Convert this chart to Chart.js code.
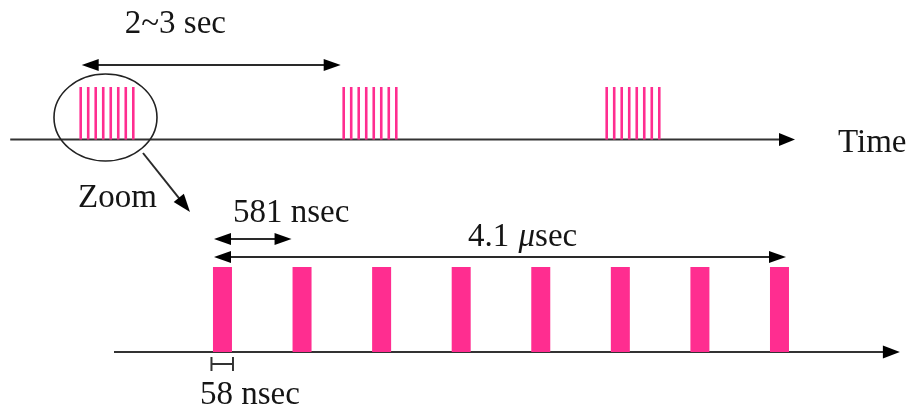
<!DOCTYPE html>
<html>
<head>
<meta charset="utf-8">
<script src="https://cdn.jsdelivr.net/npm/chart.js@4.4.1/dist/chart.umd.min.js"></script>
<style>
  html, body { margin: 0; padding: 0; background: #ffffff; }
  #wrap { width: 911px; height: 412px; position: relative; }
</style>
</head>
<body>
<div id="wrap"><canvas id="c"></canvas></div>
<script>
// Burst repetition: one burst every 2~3 seconds (start times, s)
const burstStartsSec = [0, 2.5, 5.0];
// Pulses inside one burst: start times in nanoseconds
const pulseStartsNs = [0, 581, 1162, 1743, 2324, 2905, 3486, 4067];
// Relative pulse amplitude
const pulseAmplitude = [1, 1, 1, 1, 1, 1, 1, 1];
// Pulse width, ns
const pulseWidthNs = 58;

// Text
const periodLabel = '2~3 sec';
const spacingLabel = '581 nsec';
const trainLabelNum = '4.1 ';
const trainLabelMu = 'μ';
const trainLabelUnit = 'sec';
const widthLabel = '58 nsec';
const axisLabel = 'Time';
const zoomLabel = 'Zoom';

// ---- layout: pixel origin and pixels per unit for each scale ----
const W = 911, H = 412;
const TOP_X = { origin: 80.7, perUnit: 105.2 };    // seconds
const TOP_Y = { origin: 139.5, perUnit: 52.5 };    // amplitude
const BOT_X = { origin: 218.5, perUnit: 0.13696 }; // nanoseconds
const BOT_Y = { origin: 352, perUnit: 85 };        // amplitude
// inside each burst on the seconds axis the pulse train is drawn magnified
const BURST_ZOOM = 1.229e-4; // s of drawing per ns
const topAxisSec = [-0.67, 6.79];
const bottomAxisNs = [-763, 4975];

function xRange(m) { return { min: -m.origin / m.perUnit, max: (W - m.origin) / m.perUnit }; }
function yRange(m) { return { min: (m.origin - H) / m.perUnit, max: m.origin / m.perUnit }; }

const burstLines = [];
burstStartsSec.forEach(s => {
  pulseStartsNs.forEach((t, i) => burstLines.push({ x: s + t * BURST_ZOOM, y: pulseAmplitude[i] }));
});
const pulses = pulseStartsNs.map((t, i) => ({ x: t + pulseWidthNs / 2, y: pulseAmplitude[i] }));

const PINK = '#ff2d90';
const INK = '#151515';
const AXIS = '#333333';
const FONT = '33px "Liberation Serif", "Times New Roman", serif';
const FONT_IT = 'italic 33px "Liberation Serif", "Times New Roman", serif';

function head(ctx, x, y, dx, dy, len, half) {
  const n = Math.hypot(dx, dy), ux = dx / n, uy = dy / n;
  const bx = x - ux * len, by = y - uy * len;
  ctx.beginPath();
  ctx.moveTo(x, y);
  ctx.lineTo(bx - uy * half, by + ux * half);
  ctx.lineTo(bx + uy * half, by - ux * half);
  ctx.closePath();
  ctx.fill();
}
function seg(ctx, x0, y0, x1, y1, w, color) {
  ctx.save();
  ctx.strokeStyle = color; ctx.lineWidth = w;
  ctx.beginPath(); ctx.moveTo(x0, y0); ctx.lineTo(x1, y1); ctx.stroke();
  ctx.restore();
}
function hArrow(ctx, x0, x1, y, both) {
  seg(ctx, both ? x0 + 8 : x0, y, x1 - 8, y, 2, '#2a2a2a');
  ctx.fillStyle = '#000';
  head(ctx, x1, y, 1, 0, 17, 6);
  if (both) head(ctx, x0, y, -1, 0, 17, 6);
}

const diagram = {
  id: 'diagram',
  beforeDatasetsDraw(chart) {
    const ctx = chart.ctx, s = chart.scales;
    ctx.save();
    // time axes
    const ty = s.yt.getPixelForValue(0);
    const tx0 = s.xs.getPixelForValue(topAxisSec[0]), tx1 = s.xs.getPixelForValue(topAxisSec[1]);
    seg(ctx, tx0, ty, tx1 - 8, ty, 2, AXIS);
    ctx.fillStyle = '#000';
    head(ctx, tx1, ty, 1, 0, 16, 6.5);
    const by = s.yb.getPixelForValue(0);
    const bx0 = s.xn.getPixelForValue(bottomAxisNs[0]), bx1 = s.xn.getPixelForValue(bottomAxisNs[1]);
    seg(ctx, bx0, by, bx1 - 8, by, 2, AXIS);
    head(ctx, bx1, by, 1, 0, 17, 6.5);
    ctx.restore();
  },
  afterDatasetsDraw(chart) {
    const ctx = chart.ctx, s = chart.scales;
    const top = chart.getDatasetMeta(0).data;
    const bot = chart.getDatasetMeta(1).data;
    const n = pulseStartsNs.length;
    ctx.save();
    ctx.font = FONT;
    ctx.textBaseline = 'alphabetic';

    // ---- upper panel ----
    const ty = s.yt.getPixelForValue(0);
    const lineTop = s.yt.getPixelForValue(1);
    const p0 = s.xs.getPixelForValue(burstStartsSec[0]);
    const p1 = s.xs.getPixelForValue(burstStartsSec[1]);
    const ay = lineTop - 22;
    hArrow(ctx, p0 + 1, p1 - 3, ay, true);
    ctx.fillStyle = INK;
    ctx.fillText(periodLabel, p0 + 44, ay - 32);
    ctx.fillText(axisLabel, s.xs.getPixelForValue(topAxisSec[1]) + 43, ty + 12.5);

    // circle round the first burst
    const cx = (top[0].x + top[n - 1].x) / 2 - 1.5;
    const cy = ty - 22;
    ctx.strokeStyle = '#222'; ctx.lineWidth = 1.6;
    ctx.beginPath(); ctx.ellipse(cx, cy, 51.5, 43.5, 0, 0, Math.PI * 2); ctx.stroke();
    // zoom pointer
    const zx0 = cx + 37.5, zy0 = cy + 35.5, zx1 = cx + 84.5, zy1 = cy + 94.5;
    seg(ctx, zx0, zy0, zx1 - (zx1 - zx0) * 0.2, zy1 - (zy1 - zy0) * 0.2, 2, '#2a2a2a');
    ctx.fillStyle = '#000';
    head(ctx, zx1, zy1, zx1 - zx0, zy1 - zy0, 18, 6.5);
    ctx.fillStyle = INK;
    ctx.fillText(zoomLabel, cx - 27.5, cy + 89.5);

    // ---- lower panel ----
    const left = b => b.x - b.width / 2;
    const right = b => b.x + b.width / 2;
    const barTop = s.yb.getPixelForValue(1);
    const base = s.yb.getPixelForValue(0);
    const a1 = barTop - 28, a2 = barTop - 10;
    hArrow(ctx, left(bot[0]) + 1, left(bot[1]) - 1, a1, true);
    hArrow(ctx, left(bot[0]) + 1, right(bot[n - 1]) - 3, a2, true);
    ctx.fillStyle = INK;
    ctx.fillText(spacingLabel, left(bot[0]) + 20, a1 - 17);
    let tx = left(bot[0]) + 255;
    ctx.fillText(trainLabelNum, tx, a2 - 11);
    tx += ctx.measureText(trainLabelNum).width + 1;
    ctx.font = FONT_IT;
    ctx.fillText(trainLabelMu, tx, a2 - 11);
    tx += ctx.measureText(trainLabelMu).width;
    ctx.font = FONT;
    ctx.fillText(trainLabelUnit, tx, a2 - 11);

    // pulse-width marker
    const hx0 = left(bot[0]) - 1.5, hx1 = right(bot[0]) + 1, hy = base + 12;
    seg(ctx, hx0, hy, hx1, hy, 2, '#333');
    seg(ctx, hx0, hy - 7, hx0, hy + 7, 2, '#333');
    seg(ctx, hx1, hy - 7, hx1, hy + 7, 2, '#333');
    ctx.fillStyle = INK;
    ctx.fillText(widthLabel, left(bot[0]) - 13, base + 52);
    ctx.restore();
  }
};

const tr = xRange(TOP_X), tyr = yRange(TOP_Y), br = xRange(BOT_X), byr = yRange(BOT_Y);
const hidden = { display: false, offset: false, bounds: 'data' };

new Chart(document.getElementById('c'), {
  type: 'bar',
  data: {
    datasets: [
      {
        label: 'bursts',
        data: burstLines,
        xAxisID: 'xs', yAxisID: 'yt',
        backgroundColor: PINK,
        grouped: false,
        maxBarThickness: 2.6,
        borderWidth: 0
      },
      {
        label: 'pulses',
        data: pulses,
        xAxisID: 'xn', yAxisID: 'yb',
        backgroundColor: PINK,
        grouped: false,
        maxBarThickness: 19,
        borderWidth: 0
      }
    ]
  },
  options: {
    responsive: true,
    maintainAspectRatio: false,
    animation: false,
    layout: { padding: 0 },
    plugins: { legend: { display: false }, tooltip: { enabled: false } },
    scales: {
      xs: Object.assign({ type: 'linear', position: 'bottom' }, hidden, tr),
      xn: Object.assign({ type: 'linear', position: 'bottom' }, hidden, br),
      yt: Object.assign({ type: 'linear', position: 'left' }, hidden, tyr),
      yb: Object.assign({ type: 'linear', position: 'left' }, hidden, byr)
    }
  },
  plugins: [diagram]
});
</script>
</body>
</html>
